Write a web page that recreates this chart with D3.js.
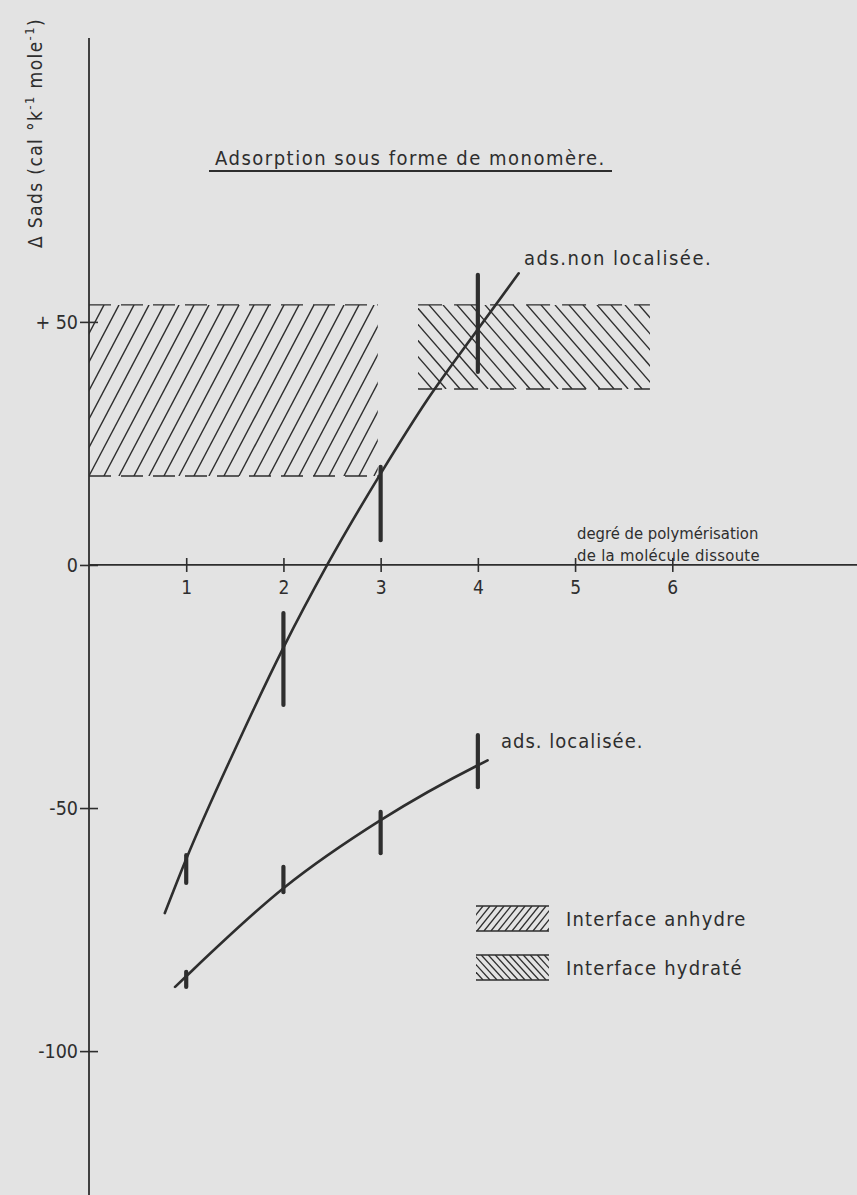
<!DOCTYPE html>
<html>
<head>
<meta charset="utf-8">
<script src="https://cdn.jsdelivr.net/npm/d3@7"></script>
<style>
  html, body { margin: 0; padding: 0; background: #e3e3e3; }
  svg { display: block; }
  text {
    font-family: "DejaVu Sans Condensed", "DejaVu Sans", sans-serif;
    font-stretch: condensed;
    fill: #2e2e2e;
  }
</style>
</head>
<body>
<div id="chart"></div>
<script>
// values
const yTicks = [50, 0, -50, -100];
const yTickLabels = ['+ 50', '0', '-50', '-100'];
const xTicks = [1, 2, 3, 4, 5, 6];

// "ads. non localisée" curve
const upperX = [0.78, 1, 1.5, 2, 2.45, 3, 3.48, 4, 4.42];
const upperY = [-71.6, -60.5, -38, -17, 0, 18.8, 34, 48.5, 60];
const upperBarX = [1, 2, 3, 4];
const upperBarLow = [-65.4, -28.8, 5.1, 39.7];
const upperBarHigh = [-59.7, -9.9, 20.2, 59.7];

// "ads. localisée" curve
const lowerX = [0.885, 1, 2, 3, 4, 4.1];
const lowerY = [-86.8, -84.6, -66.5, -52.5, -41.2, -40.2];
const lowerBarX = [1, 2, 3, 4];
const lowerBarLow = [-86.8, -67.3, -59.3, -45.7];
const lowerBarHigh = [-83.7, -62.1, -50.8, -35];

// hatched zones
const zoneNames = ['anhydre', 'hydrate'];
const zoneX0 = [0, 3.385];
const zoneX1 = [2.97, 5.77];
const zoneY0 = [18.3, 36.2];
const zoneY1 = [53.5, 53.5];

const legendLabels = ['Interface anhydre', 'Interface hydraté'];

const W = 857, H = 1195;
const ink = '#2e2e2e';
const fontStack = '"DejaVu Sans Condensed", "DejaVu Sans", sans-serif';

const x = d3.scaleLinear().domain([0, 7.9]).range([89, 857]);
const y = d3.scaleLinear().domain([-129.6, 108.4]).range([1195, 38]);

const svg = d3.select('#chart').append('svg')
  .attr('width', W)
  .attr('height', H);

svg.append('rect').attr('width', W).attr('height', H).attr('fill', '#e3e3e3');

const defs = svg.append('defs');

// hatched zones: diagonal strokes clipped to the zone, dashed top/bottom edges
function hatch(g, id, x0, x1, y0, y1, step, slope, dir, sw) {
  defs.append('clipPath').attr('id', id)
    .append('rect')
    .attr('x', x0).attr('y', y0)
    .attr('width', x1 - x0).attr('height', y1 - y0);
  const h = y1 - y0;
  const run = h / slope;
  const lines = d3.range(x0 - run - step, x1 + run + step, step);
  g.append('g')
    .attr('clip-path', `url(#${id})`)
    .selectAll('line')
    .data(lines)
    .join('line')
      .attr('x1', d => d)
      .attr('y1', dir > 0 ? y1 : y0)
      .attr('x2', d => d + run)
      .attr('y2', dir > 0 ? y0 : y1)
      .attr('stroke', ink)
      .attr('stroke-width', sw);
}

const zones = svg.append('g');
zoneNames.forEach((name, i) => {
  const x0 = x(zoneX0[i]), x1 = x(zoneX1[i]);
  const top = y(zoneY1[i]), bot = y(zoneY0[i]);
  const dir = name === 'anhydre' ? 1 : -1;
  hatch(zones, 'clip-' + name, x0, x1, top, bot,
    name === 'anhydre' ? 15 : 14,
    name === 'anhydre' ? 1.9 : 1.15, dir, 1.4);
  [top, bot].forEach(yy => {
    zones.append('line')
      .attr('x1', x0).attr('x2', x1)
      .attr('y1', yy).attr('y2', yy)
      .attr('stroke', ink)
      .attr('stroke-width', 1.4)
      .attr('stroke-dasharray', name === 'anhydre' ? '22,10' : '24,12');
  });
});

// axes
const yAxis = svg.append('g')
  .attr('transform', `translate(${x(0)},0)`)
  .call(d3.axisLeft(y).tickValues(yTicks).tickSize(0).tickPadding(11)
    .tickFormat((d, i) => yTickLabels[i]));
yAxis.select('.domain').remove();
yAxis.selectAll('.tick').append('line')
  .attr('x1', -9).attr('x2', 9)
  .attr('stroke', ink).attr('stroke-width', 1.6);
yAxis.selectAll('.tick text')
  .attr('font-size', 19.5)
  .style('font-family', fontStack)
  .attr('fill', ink);
yAxis.append('line')
  .attr('y1', y.range()[1]).attr('y2', y.range()[0])
  .attr('stroke', ink).attr('stroke-width', 1.8);

const xAxis = svg.append('g')
  .attr('transform', `translate(0,${y(0)})`)
  .call(d3.axisBottom(x).tickValues(xTicks).tickSize(0).tickPadding(16)
    .tickFormat(d3.format('d')));
xAxis.select('.domain').remove();
xAxis.selectAll('.tick').append('line')
  .attr('y1', -7).attr('y2', 7)
  .attr('stroke', ink).attr('stroke-width', 1.6);
xAxis.selectAll('.tick text')
  .attr('font-size', 19)
  .style('font-family', fontStack)
  .attr('fill', ink);
xAxis.append('line')
  .attr('x1', x.range()[0]).attr('x2', x.range()[1])
  .attr('stroke', ink).attr('stroke-width', 1.8);

// curves
const line = d3.line()
  .x(d => x(d[0]))
  .y(d => y(d[1]))
  .curve(d3.curveMonotoneX);

[[upperX, upperY], [lowerX, lowerY]].forEach(([xs, ys]) => {
  svg.append('path')
    .datum(xs.map((v, i) => [v, ys[i]]))
    .attr('fill', 'none')
    .attr('stroke', ink)
    .attr('stroke-width', 2.6)
    .attr('stroke-linecap', 'round')
    .attr('d', line);
});

// error bars
[[upperBarX, upperBarLow, upperBarHigh], [lowerBarX, lowerBarLow, lowerBarHigh]]
  .forEach(([xs, lo, hi]) => {
    svg.append('g').selectAll('line')
      .data(xs)
      .join('line')
        .attr('x1', d => x(d)).attr('x2', d => x(d))
        .attr('y1', (d, i) => y(lo[i]))
        .attr('y2', (d, i) => y(hi[i]))
        .attr('stroke', ink)
        .attr('stroke-width', 4.2)
        .attr('stroke-linecap', 'round');
  });

// texts
svg.append('text')
  .attr('x', 215).attr('y', 165)
  .attr('font-size', 20)
  .attr('letter-spacing', 1.5)
  .text('Adsorption sous forme de monomère.');
svg.append('line')
  .attr('x1', 209).attr('x2', 612)
  .attr('y1', 171).attr('y2', 171)
  .attr('stroke', ink).attr('stroke-width', 1.8);

svg.append('text')
  .attr('x', 524).attr('y', 265)
  .attr('font-size', 20)
  .attr('letter-spacing', 1.5)
  .text('ads.non localisée.');

svg.append('text')
  .attr('x', 501).attr('y', 748)
  .attr('font-size', 20)
  .attr('letter-spacing', 1)
  .text('ads. localisée.');

svg.append('text')
  .attr('x', 577).attr('y', 539)
  .attr('font-size', 16.5)
  .text('degré de polymérisation');
svg.append('text')
  .attr('x', 577).attr('y', 561)
  .attr('font-size', 16.5)
  .attr('letter-spacing', 0.3)
  .text('de la molécule dissoute');

const ylab = svg.append('text')
  .attr('transform', 'translate(42,133) rotate(-90)')
  .attr('text-anchor', 'middle')
  .attr('font-size', 19)
  .attr('letter-spacing', 1.4);
ylab.append('tspan').text('Δ Sads (cal °k');
ylab.append('tspan').attr('dy', -8).attr('font-size', 13).text('-1');
ylab.append('tspan').attr('dy', 8).text(' mole');
ylab.append('tspan').attr('dy', -8).attr('font-size', 13).text('-1');
ylab.append('tspan').attr('dy', 8).text(')');

// legend
const legend = svg.append('g');
legendLabels.forEach((label, i) => {
  const ly = 906 + i * 49;
  const lx0 = 476, lx1 = 549, lh = 25;
  hatch(legend, 'clip-leg' + i, lx0, lx1, ly, ly + lh, 7, i === 0 ? 1.25 : 1.1, i === 0 ? 1 : -1, 1.3);
  [ly, ly + lh].forEach(yy => {
    legend.append('line')
      .attr('x1', lx0).attr('x2', lx1)
      .attr('y1', yy).attr('y2', yy)
      .attr('stroke', ink).attr('stroke-width', 1.6);
  });
  legend.append('text')
    .attr('x', 566).attr('y', ly + 20)
    .attr('font-size', 20)
    .attr('letter-spacing', 1.2)
    .text(label);
});
</script>
</body>
</html>
